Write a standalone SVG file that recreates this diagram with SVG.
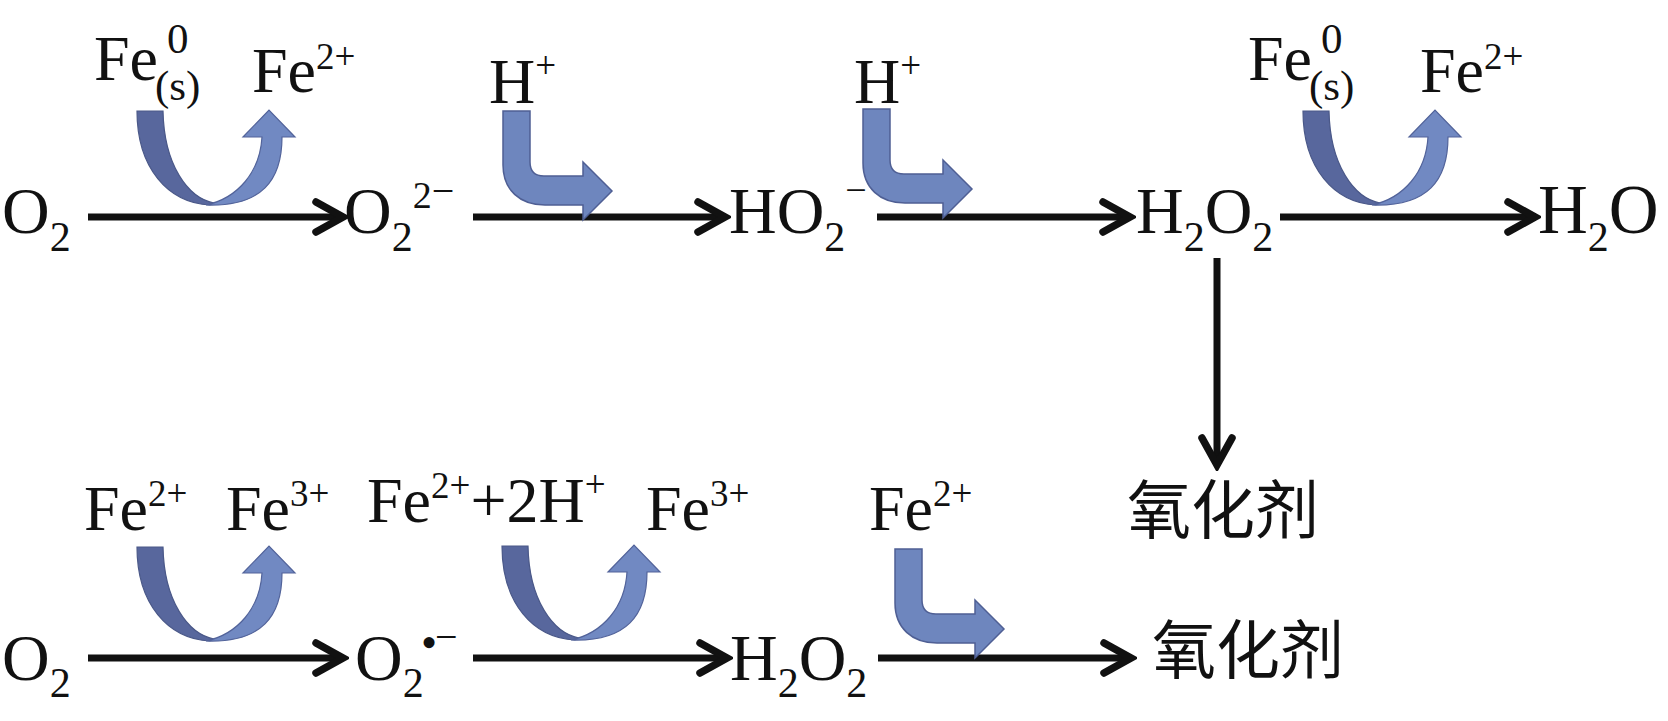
<svg xmlns="http://www.w3.org/2000/svg" width="1668" height="721" viewBox="0 0 1668 721">
<style>
.t{font-family:"Liberation Serif","Times New Roman",serif;fill:#111;}
.m{font-size:66px;}
.sb{font-size:42px;}
.l{font-size:64px;}
.sp{font-size:37px;}
.sl{font-size:43px;}
.cn{font-family:"Noto Sans CJK SC","Noto Sans CJK TC",sans-serif;font-size:64px;fill:#111;}
.ln{stroke:#111;stroke-width:7;fill:none;marker-end:url(#ah);}
.dk{fill:#58679d;stroke:#4a5888;stroke-width:1.2;}
.lt{fill:#7189c2;stroke:#52639a;stroke-width:1.2;}
.lb{fill:#6e86be;stroke:#4f5f94;stroke-width:1.5;}
</style>
<defs>
<marker id="ah" markerUnits="userSpaceOnUse" markerWidth="40" markerHeight="40" viewBox="-30 -20 40 40" refX="0" refY="0" orient="auto">
<path d="M-23,-15 L4,0 L-23,15" fill="none" stroke="#111" stroke-width="7.5" stroke-linecap="round" stroke-linejoin="miter"/>
</marker>
<g id="uarrow">
<path class="dk" d="M137,111 L163,111 C164,165 188,198 214,203 L210,205 C168,203 137,168 137,111 Z"/>
<path class="lt" d="M206,205 C262,207 282,180 282,137 L295,137 L269,110 L243,137 L262,137 C260,172 238,198 206,205 Z"/>
</g>
<path id="larrow" class="lb" d="M503,111 L530,111 L530,162 Q530,176 544,176 L583,176 L583,162 L612,191 L583,220 L583,205 L545,205 C520,205 503,190 503,165 Z"/>
</defs>

<g id="connectors">
<path class="ln" d="M88,217 H339"/>
<path class="ln" d="M473,217 H721"/>
<path class="ln" d="M877,217 H1126"/>
<path class="ln" d="M1280,217 H1531"/>
<path class="ln" d="M1217,258 V461"/>
<path class="ln" d="M88,658 H339"/>
<path class="ln" d="M473,658 H723"/>
<path class="ln" d="M878,658 H1127"/>
</g>

<g id="reagent-arrows">
<use id="u1" href="#uarrow"/>
<use id="u2" href="#uarrow" transform="translate(1166,0)"/>
<use id="u3" href="#uarrow" transform="translate(0,436)"/>
<use id="u4" href="#uarrow" transform="translate(365,435)"/>
<use id="l1" href="#larrow"/>
<use id="l2" href="#larrow" transform="translate(360,-2)"/>
<use id="l3" href="#larrow" transform="translate(392,438)"/>
</g>

<g id="n-o2-top"><text class="t m" x="2" y="233">O<tspan class="sb" y="251">2</tspan></text></g>
<g id="n-o22-"><text class="t m" x="344" y="233">O<tspan class="sb" y="251">2</tspan><tspan style="font-size:38px" y="208">2</tspan><tspan style="font-size:40px" y="204">−</tspan></text></g>
<g id="n-ho2-"><text class="t m" x="729" y="233">HO<tspan class="sb" y="251">2</tspan><tspan style="font-size:38px" y="203">−</tspan></text></g>
<g id="n-h2o2-top"><text class="t m" x="1136" y="233">H<tspan class="sb" y="251">2</tspan><tspan y="233">O</tspan><tspan class="sb" y="251">2</tspan></text></g>
<g id="n-h2o"><text class="t" style="font-size:69px" x="1538" y="233">H<tspan class="sb" y="251">2</tspan><tspan y="233">O</tspan></text></g>
<g id="n-ox-top"><text class="cn" x="1127" y="533">氧化剂</text></g>

<g id="n-o2-bot"><text class="t m" x="2" y="680">O<tspan class="sb" y="697">2</tspan></text></g>
<g id="n-o2rad"><text class="t m" x="355" y="680">O<tspan class="sb" y="697">2</tspan></text><text class="t" style="font-size:46px" x="421" y="658">•</text><text class="t" style="font-size:40px" x="435" y="650">−</text></g>
<g id="n-h2o2-bot"><text class="t m" x="730" y="680">H<tspan class="sb" y="697">2</tspan><tspan y="680">O</tspan><tspan class="sb" y="697">2</tspan></text></g>
<g id="n-ox-bot"><text class="cn" x="1152" y="673">氧化剂</text></g>

<g id="lab-fe0-1"><text class="t l" x="94" y="80">Fe</text><text class="t sl" x="155" y="100">(s)</text><text class="t sl" x="167" y="53">0</text></g>
<g id="lab-fe2-1"><text class="t l" x="252" y="92">Fe<tspan class="sp" y="69">2+</tspan></text></g>
<g id="lab-h-1"><text class="t l" x="489" y="103">H<tspan class="sp" y="78">+</tspan></text></g>
<g id="lab-h-2"><text class="t l" x="854" y="103">H<tspan class="sp" y="78">+</tspan></text></g>
<g id="lab-fe0-2"><text class="t l" x="1248" y="80">Fe</text><text class="t sl" x="1309" y="100">(s)</text><text class="t sl" x="1321" y="53">0</text></g>
<g id="lab-fe2-2"><text class="t l" x="1420" y="92">Fe<tspan class="sp" y="69">2+</tspan></text></g>

<g id="lab-fe2-b1"><text class="t l" x="84" y="530">Fe<tspan class="sp" y="506">2+</tspan></text></g>
<g id="lab-fe3-b1"><text class="t l" x="226" y="530">Fe<tspan class="sp" y="506">3+</tspan></text></g>
<g id="lab-fe2h"><text class="t l" x="367" y="522">Fe<tspan class="sp" y="498">2+</tspan><tspan y="522">+2H</tspan><tspan class="sp" y="497">+</tspan></text></g>
<g id="lab-fe3-b2"><text class="t l" x="646" y="530">Fe<tspan class="sp" y="506">3+</tspan></text></g>
<g id="lab-fe2-b3"><text class="t l" x="869" y="530">Fe<tspan class="sp" y="506">2+</tspan></text></g>
</svg>
